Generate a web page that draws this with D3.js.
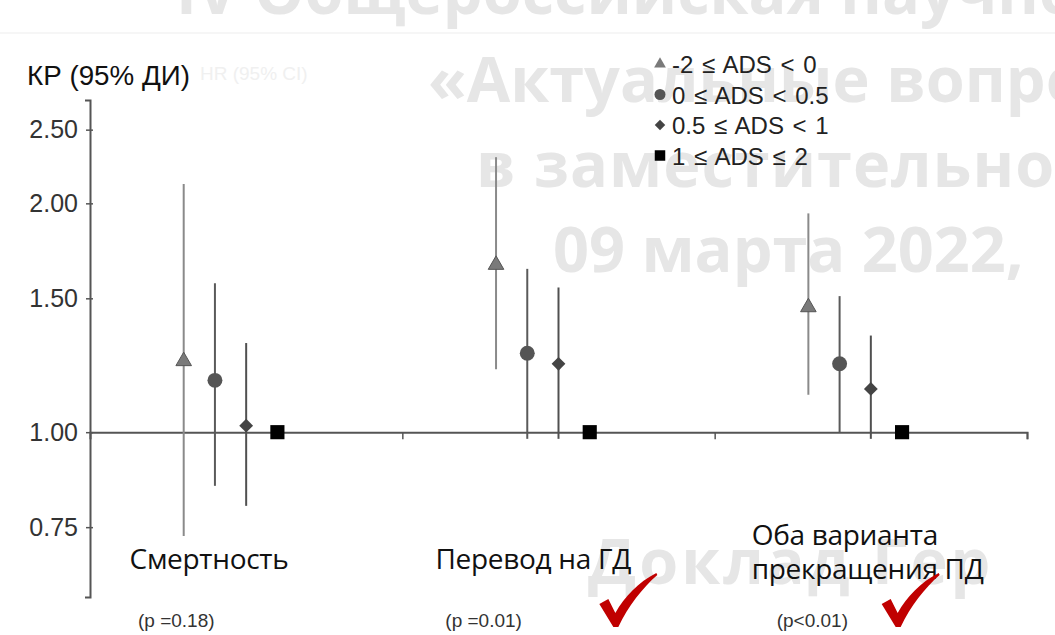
<!DOCTYPE html>
<html>
<head>
<meta charset="utf-8">
<script src="https://cdn.jsdelivr.net/npm/d3@7"></script>
<style>
  body { margin: 0; background: #fff; }
  svg { display: block; }
</style>
</head>
<body>
<div class="chart"></div>
<script>
var categories = ['Смертность', 'Перевод на ГД', 'Оба варианта прекращения ПД'];
var pValues = ['(p =0.18)', '(p =0.01)', '(p<0.01)'];
var series = ['-2 ≤ ADS < 0', '0 ≤ ADS < 0.5', '0.5 ≤ ADS < 1', '1 ≤ ADS ≤ 2'];

// hazard ratios per series, one value per category
var hr    = [[1.24, 1.66, 1.46], [1.17, 1.27, 1.23], [1.02, 1.23, 1.14], [1.00, 1.00, 1.00]];
var lower = [[0.73, 1.21, 1.12], [0.85, 0.98, 1.00], [0.80, 0.98, 0.98], [null, null, null]];
var upper = [[2.12, 2.30, 1.94], [1.57, 1.64, 1.51], [1.31, 1.55, 1.34], [null, null, null]];
var yTicks = [0.75, 1.00, 1.50, 2.00, 2.50];

var width = 1055, height = 635;
var margin = { left: 90, right: 28, top: 100, bottom: 38 };

var svg = d3.select('.chart').append('svg')
    .attr('width', width)
    .attr('height', height);

// faint watermark of the slide behind the chart
var wm = svg.append('g')
    .attr('fill', '#e6e6e6')
    .style('font-family', '"Open Sans", sans-serif')
    .style('font-weight', 700)
    .style('font-size', '63px');
wm.append('text').attr('x', 176).attr('y', 14).text('IV Общероссийская научно');
wm.append('text').attr('x', 428).attr('y', 102).text('«Актуальные вопросы');
wm.append('text').attr('x', 476).attr('y', 187).style('letter-spacing', '1px').text('в заместительной');
wm.append('text').attr('x', 553).attr('y', 272).text('09 марта 2022,');
wm.append('text').attr('x', 588).attr('y', 584).style('letter-spacing', '3px').text('Доклад Гер');
svg.append('line').attr('x1', 0).attr('x2', width).attr('y1', 33).attr('y2', 33)
    .attr('stroke', '#f3f3f3').attr('stroke-width', 1.5);
svg.append('text').attr('x', 200).attr('y', 80).text('HR (95% CI)')
    .attr('fill', '#f0f0f0')
    .style('font-family', '"Liberation Sans", Arial, sans-serif')
    .style('font-size', '19px');

var x = d3.scaleBand().domain(categories).range([margin.left, width - margin.right]);
var xEdge = d3.scaleLinear().domain([0, categories.length]).range([margin.left, width - margin.right]);
var inner = d3.scalePoint().domain(series).range([x.bandwidth() * 0.3, x.bandwidth() * 0.6]);
var y = d3.scaleLog().domain([0.607, 2.735]).range([height - margin.bottom, margin.top]);

// y axis
var yAxis = svg.append('g')
    .attr('transform', 'translate(' + margin.left + ',0)')
    .call(d3.axisLeft(y).tickValues(yTicks).tickFormat(d3.format('.2f')).tickSizeOuter(0).tickSize(5));
yAxis.select('.domain').attr('stroke', '#555').attr('stroke-width', 2);
yAxis.selectAll('.tick line').attr('stroke', '#555').attr('stroke-width', 1.5).attr('x2', 3).attr('x1', -4);
yAxis.selectAll('.tick text')
    .attr('x', -12)
    .attr('fill', '#333')
    .style('font-family', '"Liberation Sans", Arial, sans-serif')
    .style('font-size', '25px');

// reference line at HR = 1
var xAxis = svg.append('g')
    .attr('transform', 'translate(0,' + y(1) + ')')
    .call(d3.axisBottom(xEdge).tickValues([1, 2, 3]).tickFormat('').tickSizeOuter(0).tickSize(7));
xAxis.select('.domain').attr('stroke', '#555').attr('stroke-width', 2);
xAxis.selectAll('.tick line').attr('stroke', '#555').attr('stroke-width', 1.5);

svg.append('text')
    .attr('x', 27).attr('y', 85)
    .text('КР (95% ДИ)')
    .attr('fill', '#111')
    .style('font-family', '"Liberation Sans", Arial, sans-serif')
    .style('font-size', '27px')
    .attr('textLength', 163)
    .attr('lengthAdjust', 'spacingAndGlyphs');

var shapes = [d3.symbolTriangle, d3.symbolCircle, d3.symbolSquare, d3.symbolSquare];
var rotate = [0, 0, 45, 0];
var sizes = [105, 175, 95, 200];
var fills = ['#7a7a7a', '#555', '#444', '#000'];
var lineColors = ['#8a8a8a', '#5a5a5a', '#505050', '#000'];

series.forEach(function(s, si) {
  var pts = categories.map(function(c, ci) {
    return { cx: x(c) + inner(s), v: hr[si][ci], lo: lower[si][ci], hi: upper[si][ci] };
  });
  var g = svg.append('g');
  g.selectAll('line')
      .data(pts.filter(function(d) { return d.lo != null; }))
      .enter().append('line')
      .attr('x1', function(d) { return d.cx; })
      .attr('x2', function(d) { return d.cx; })
      .attr('y1', function(d) { return y(d.lo); })
      .attr('y2', function(d) { return y(d.hi); })
      .attr('stroke', lineColors[si])
      .attr('stroke-width', 2);
  g.selectAll('path')
      .data(pts)
      .enter().append('path')
      .attr('d', d3.symbol().type(shapes[si]).size(sizes[si]))
      .attr('transform', function(d) {
        return 'translate(' + d.cx + ',' + y(d.v) + ') rotate(' + rotate[si] + ')';
      })
      .attr('fill', fills[si])
      .attr('stroke', si == 0 ? '#555' : 'none')
      .attr('stroke-width', 1);
});

// legend
var legend = svg.append('g').attr('transform', 'translate(660,64)');
series.forEach(function(s, si) {
  var row = legend.append('g').attr('transform', 'translate(0,' + (si * 30.5) + ')');
  row.append('path')
      .attr('d', d3.symbol().type(shapes[si]).size([60, 95, 55, 110][si]))
      .attr('transform', 'rotate(' + rotate[si] + ')')
      .attr('fill', fills[si]);
  row.append('text')
      .attr('x', 12).attr('y', 9)
      .text(s)
      .attr('fill', '#222')
      .style('font-family', '"Liberation Sans", Arial, sans-serif')
      .style('font-size', '24px')
      .style('word-spacing', '2px');
});

// category labels and p-values
var labelFont = '"Open Sans", "Noto Sans", sans-serif';
function catLabel(lines, px, anchor, y0) {
  var t = svg.append('text')
      .attr('text-anchor', anchor)
      .attr('fill', '#111')
      .style('font-family', labelFont)
      .style('font-size', '28px')
      .style('letter-spacing', '-0.3px');
  lines.forEach(function(l, i) {
    t.append('tspan').attr('x', px).attr('y', y0 + i * 34).text(l);
  });
}
catLabel(['Смертность'], x(categories[0]) + 119, 'middle', 569);
catLabel(['Перевод на ГД'], x(categories[1]) + 131, 'middle', 569);
catLabel(['Оба варианта', 'прекращения ПД'], x(categories[2]) + 37, 'start', 545);

var pOffsets = [48, 43, 62];
pValues.forEach(function(p, i) {
  svg.append('text')
      .attr('x', x(categories[i]) + pOffsets[i]).attr('y', 627)
      .text(p)
      .attr('fill', '#333')
      .style('font-family', '"Liberation Sans", Arial, sans-serif')
      .style('font-size', '19px');
});

// red check marks for significant results
var checkPath = 'M0,31 L9,26 L16,40 C25,24 39,9 57,0 L58,2 C43,15 29,33 19,54 L14,54 Z';
[1, 2].forEach(function(i) {
  svg.append('path')
      .attr('d', checkPath)
      .attr('transform', 'translate(' + (x(categories[i]) + [0, 197, 167][i]) + ',573)')
      .attr('fill', '#c00000');
});
</script>
</body>
</html>
